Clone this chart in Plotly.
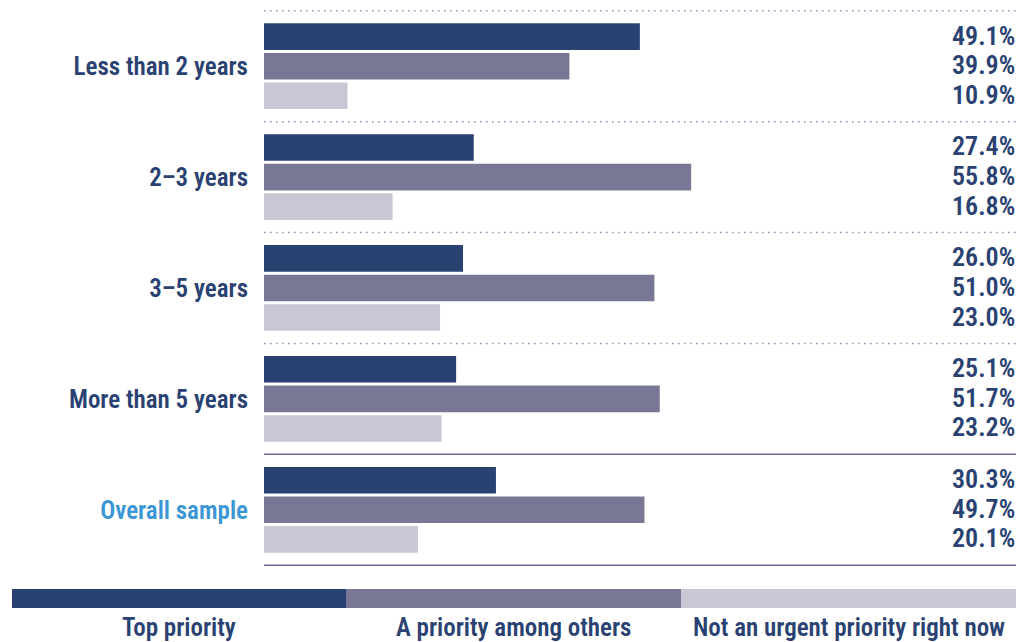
import plotly.graph_objects as go

# Survey results by time horizon
categories = ["Less than 2 years", "2–3 years", "3–5 years", "More than 5 years", "Overall sample"]
series_names = ["Top priority", "A priority among others", "Not an urgent priority right now"]
top_priority = [49.1, 27.4, 26.0, 25.1, 30.3]
among_others = [39.9, 55.8, 51.0, 51.7, 49.7]
not_urgent = [10.9, 16.8, 23.0, 23.2, 20.1]
series_values = [top_priority, among_others, not_urgent]

colors = ["#2a4272", "#787896", "#c9c7d6"]
navy = "#2a4272"
highlight = "#3a96d4"
FONT = "Liberation Sans Narrow, Roboto Condensed, Arial Narrow, sans-serif"
FSIZE = 25
FWEIGHT = 600

W, H = 1022, 642
L, R, T, B = 264, 6, 10, 76
PW, PH = W - L - R, H - T - B


def px_x(x):
    return (x - L) / PW


def px_y(y):
    return 1 - (y - T) / PH


fig = go.Figure()
for name, vals, col in zip(series_names, series_values, colors):
    fig.add_trace(go.Bar(
        y=categories, x=vals, name=name, orientation="h",
        marker=dict(color=col, line=dict(width=0)),
        showlegend=False, hoverinfo="x+y",
    ))

# value labels aligned on the right edge
offset = 0.267
annotations = []
for k, vals in enumerate(series_values):
    for i, v in enumerate(vals):
        annotations.append(dict(
            x=1, xref="paper", xanchor="right", xshift=1,
            y=i + (k - 1) * offset, yref="y", yanchor="middle", yshift=1,
            text=f"{v:.1f}%", showarrow=False,
            font=dict(family=FONT, size=26, color=navy, weight=FWEIGHT),
        ))

# separators between groups
shapes = []
n = len(categories)
for i in range(n + 1):
    yb = i - 0.5
    solid = i >= n - 1
    shapes.append(dict(
        type="line", xref="paper", x0=0, x1=1, yref="y", y0=yb, y1=yb,
        line=dict(color="#6b6b9b" if solid else "#8f8fb8",
                  width=1.6 if solid else 1.5,
                  dash="solid" if solid else "1.5px,4.5px"),
        layer="below",
    ))

# legend strip along the bottom
seg_edges = [12, 346, 681, 1016]
for k, (name, col) in enumerate(zip(series_names, colors)):
    x0, x1 = seg_edges[k], seg_edges[k + 1]
    shapes.append(dict(
        type="rect", xref="paper", yref="paper",
        x0=px_x(x0), x1=px_x(x1), y0=px_y(608), y1=px_y(589),
        fillcolor=col, line=dict(width=0),
    ))
    annotations.append(dict(
        x=px_x((x0 + x1) / 2), xref="paper", xanchor="center",
        y=px_y(627), yref="paper", yanchor="middle",
        text=name, showarrow=False,
        font=dict(family=FONT, size=FSIZE, color=navy, weight=FWEIGHT),
    ))

ticktext = [c if c != "Overall sample" else f"<span style='color:{highlight}'>{c}</span>"
            for c in categories]

fig.update_layout(
    width=W, height=H,
    margin=dict(l=L, r=R, t=T, b=B, pad=0),
    paper_bgcolor="white", plot_bgcolor="white",
    barmode="group", bargap=0.2, bargroupgap=0.1,
    font=dict(family=FONT, size=FSIZE, color=navy, weight=FWEIGHT),
    xaxis=dict(range=[0, PW / 7.655], visible=False, fixedrange=True),
    yaxis=dict(
        autorange="reversed", tickmode="array", tickvals=categories, ticktext=ticktext,
        showgrid=False, zeroline=False, showline=False, ticks="",
        ticklabelstandoff=15,
        tickfont=dict(family=FONT, size=FSIZE, color=navy, weight=FWEIGHT),
        fixedrange=True,
    ),
    shapes=shapes, annotations=annotations,
)

fig.write_html("out.html")
